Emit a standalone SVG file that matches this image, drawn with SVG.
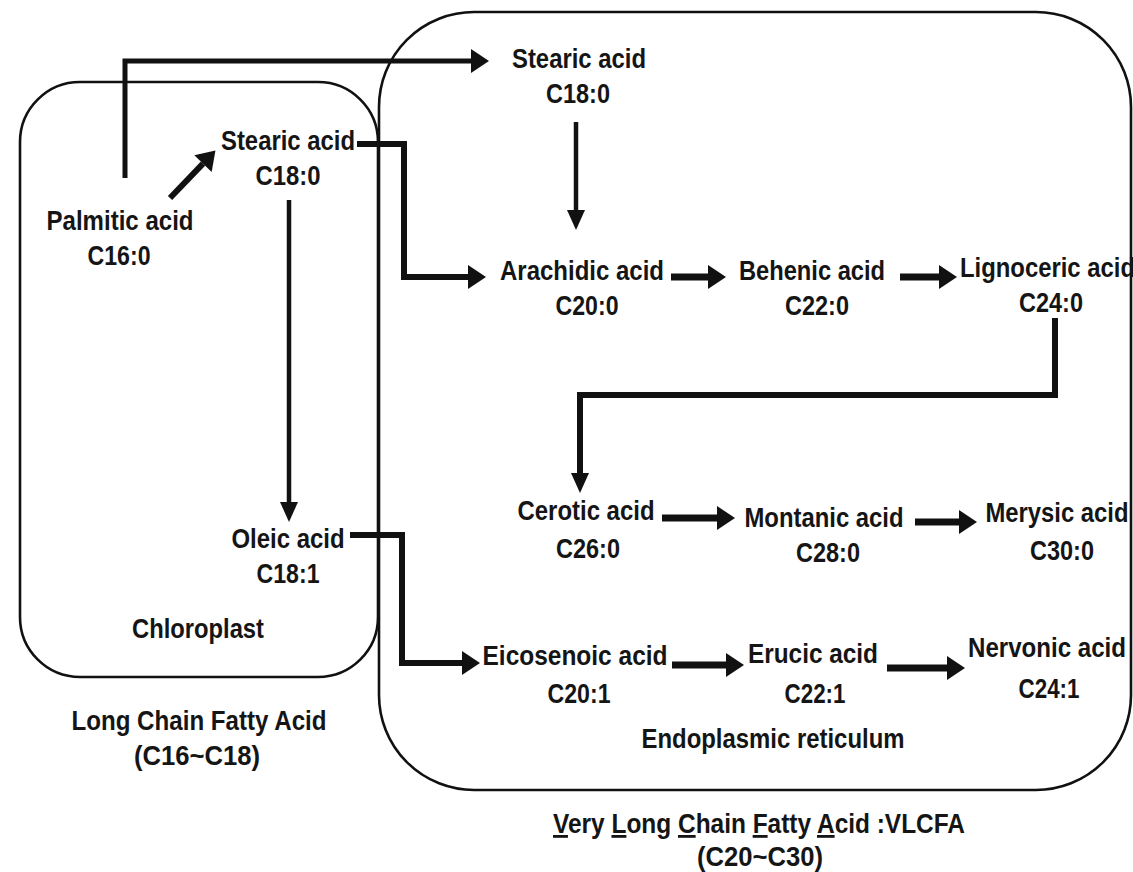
<svg xmlns="http://www.w3.org/2000/svg" width="1133" height="872" viewBox="0 0 1133 872">
<style>
text{font-family:"Liberation Sans",Arial,sans-serif;font-weight:bold;font-size:28px;fill:#151515;text-anchor:middle}
.box{fill:none;stroke:#111;stroke-width:2.6}
.c{fill:none;stroke:#111;stroke-linejoin:miter;stroke-linecap:butt}
.w4{stroke-width:4.5}.w5{stroke-width:5}.w6{stroke-width:6}.w7{stroke-width:7}
</style>
<defs>
<marker id="big" markerUnits="userSpaceOnUse" markerWidth="19" markerHeight="24" refX="0" refY="12" orient="auto" overflow="visible"><path d="M0,0 L18,12 L0,24 Z" fill="#111"/></marker>
<marker id="thin" markerUnits="userSpaceOnUse" markerWidth="20" markerHeight="18" refX="0" refY="9" orient="auto" overflow="visible"><path d="M0,0 L20,9 L0,18 Z" fill="#111"/></marker>
</defs>
<g id="compartments">
<rect id="chloroplast-box" class="box" x="20" y="82" width="358" height="595" rx="60"/>
<rect id="er-box" class="box" x="379" y="12" width="752" height="778" rx="95"/>
</g>
<g id="connectors">
<path class="c w5" d="M125,178 V61 H471" marker-end="url(#big)"/>
<path class="c w6" d="M170,198 L203,163.6" marker-end="url(#big)"/>
<path class="c w6" d="M357,144 H404 V277 H468" marker-end="url(#big)"/>
<path class="c w4" d="M289,200 V502" marker-end="url(#thin)"/>
<path class="c w4" d="M576,122 V210" marker-end="url(#thin)"/>
<path class="c w6" d="M350,535 H402 V663 H462" marker-end="url(#big)"/>
<path class="c w7" d="M671,277 H708" marker-end="url(#big)"/>
<path class="c w7" d="M900,277 H939" marker-end="url(#big)"/>
<path class="c w6" d="M1055,318 V395 H580 V473" marker-end="url(#thin)"/>
<path class="c w7" d="M662,518 H717" marker-end="url(#big)"/>
<path class="c w7" d="M915,522 H959" marker-end="url(#big)"/>
<path class="c w7" d="M672,665 H726" marker-end="url(#big)"/>
<path class="c w7" d="M887,668 H947" marker-end="url(#big)"/>
</g>
<g id="palmitic"><text x="120" y="230" textLength="147" lengthAdjust="spacingAndGlyphs">Palmitic acid</text><text x="119" y="265" textLength="63" lengthAdjust="spacingAndGlyphs">C16:0</text></g>
<g id="stearic-chloroplast"><text x="288" y="150" textLength="134" lengthAdjust="spacingAndGlyphs">Stearic acid</text><text x="288" y="185" textLength="65" lengthAdjust="spacingAndGlyphs">C18:0</text></g>
<g id="oleic"><text x="288" y="548" textLength="113" lengthAdjust="spacingAndGlyphs">Oleic acid</text><text x="288" y="583" textLength="63" lengthAdjust="spacingAndGlyphs">C18:1</text></g>
<g id="chloroplast-label"><text x="198" y="638" textLength="132" lengthAdjust="spacingAndGlyphs">Chloroplast</text></g>
<g id="stearic-er"><text x="579" y="68" textLength="134" lengthAdjust="spacingAndGlyphs">Stearic acid</text><text x="578" y="103" textLength="64" lengthAdjust="spacingAndGlyphs">C18:0</text></g>
<g id="arachidic"><text x="582" y="280" textLength="164" lengthAdjust="spacingAndGlyphs">Arachidic acid</text><text x="587" y="315" textLength="63" lengthAdjust="spacingAndGlyphs">C20:0</text></g>
<g id="behenic"><text x="812" y="280" textLength="146" lengthAdjust="spacingAndGlyphs">Behenic acid</text><text x="817" y="315" textLength="64" lengthAdjust="spacingAndGlyphs">C22:0</text></g>
<g id="lignoceric"><text x="960" y="277" textLength="175" lengthAdjust="spacingAndGlyphs" style="text-anchor:start">Lignoceric acid</text><text x="1051" y="312" textLength="64" lengthAdjust="spacingAndGlyphs">C24:0</text></g>
<g id="cerotic"><text x="586" y="520" textLength="137" lengthAdjust="spacingAndGlyphs">Cerotic acid</text><text x="588" y="558" textLength="64" lengthAdjust="spacingAndGlyphs">C26:0</text></g>
<g id="montanic"><text x="824" y="527" textLength="159" lengthAdjust="spacingAndGlyphs">Montanic acid</text><text x="828" y="562" textLength="64" lengthAdjust="spacingAndGlyphs">C28:0</text></g>
<g id="merysic"><text x="1057" y="522" textLength="143" lengthAdjust="spacingAndGlyphs">Merysic acid</text><text x="1062" y="560" textLength="64" lengthAdjust="spacingAndGlyphs">C30:0</text></g>
<g id="eicosenoic"><text x="575" y="665" textLength="185" lengthAdjust="spacingAndGlyphs">Eicosenoic acid</text><text x="579" y="703" textLength="63" lengthAdjust="spacingAndGlyphs">C20:1</text></g>
<g id="erucic"><text x="813" y="663" textLength="130" lengthAdjust="spacingAndGlyphs">Erucic acid</text><text x="815" y="703" textLength="61" lengthAdjust="spacingAndGlyphs">C22:1</text></g>
<g id="nervonic"><text x="1047" y="657" textLength="158" lengthAdjust="spacingAndGlyphs">Nervonic acid</text><text x="1049" y="698" textLength="61" lengthAdjust="spacingAndGlyphs">C24:1</text></g>
<g id="er-label"><text x="773" y="748" textLength="263" lengthAdjust="spacingAndGlyphs">Endoplasmic reticulum</text></g>
<g id="lcfa-label"><text x="199" y="730" textLength="255" lengthAdjust="spacingAndGlyphs">Long Chain Fatty Acid</text><text x="197" y="765" textLength="126" lengthAdjust="spacingAndGlyphs">(C16~C18)</text></g>
<g id="vlcfa-label"><text x="759" y="833" textLength="412" lengthAdjust="spacingAndGlyphs"><tspan text-decoration="underline">V</tspan>ery <tspan text-decoration="underline">L</tspan>ong <tspan text-decoration="underline">C</tspan>hain <tspan text-decoration="underline">F</tspan>atty <tspan text-decoration="underline">A</tspan>cid :VLCFA</text><text x="760" y="866" textLength="126" lengthAdjust="spacingAndGlyphs">(C20~C30)</text></g>
</svg>
